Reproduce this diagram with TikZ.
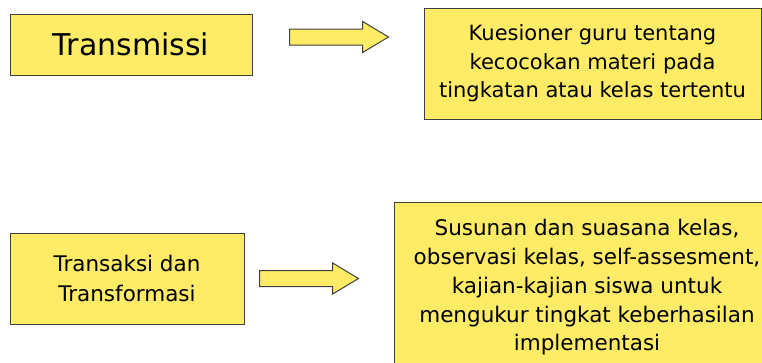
\documentclass[tikz,border=0pt]{standalone}
\usepackage{fontspec}
\setmainfont{DejaVu Sans}
\usetikzlibrary{shapes.arrows}
\definecolor{kuning}{RGB}{255,236,102}
\begin{document}
\begin{tikzpicture}[x=1pt, y=-1pt,
  kotak/.style={rectangle, draw=black!75, line width=1pt, fill=kuning, align=center,
                inner sep=2pt, font=\fontsize{20.5}{28.5}\selectfont},
  panah/.style={single arrow, draw=black!75, line width=1pt, fill=kuning, minimum height=99pt,
                minimum width=30pt, single arrow head extend=7.5pt, single arrow tip angle=62,
                inner xsep=0pt, inner ysep=7.5pt, anchor=tail}]
\useasboundingbox (0,0) rectangle (762,362);
\clip (0,0) rectangle (762,362);
\node[kotak, minimum width=242pt, minimum height=61pt, font=\fontsize{30}{34}\selectfont](tr) at (131,44.5){Transmissi};
\node[kotak, minimum width=337pt, minimum height=111pt, font=\fontsize{21}{28.5}\selectfont](ku) at (592.5,63.5){Kuesioner guru tentang\\kecocokan materi pada\\tingkatan atau kelas tertentu};
\node[kotak, minimum width=234pt, minimum height=91pt, font=\fontsize{21.5}{30}\selectfont](tt) at (127,278.5){Transaksi dan\\Transformasi};
\node[kotak, minimum width=386pt, minimum height=171pt, font=\fontsize{21.5}{28.75}\selectfont](su) at (587,287.5){Susunan dan suasana kelas,\\observasi kelas, self-assesment,\\kajian-kajian siswa untuk\\mengukur tingkat keberhasilan\\implementasi};
\node[panah](p1) at (289,37){};
\node[panah](p2) at (259,278.5){};
\end{tikzpicture}
\end{document}
